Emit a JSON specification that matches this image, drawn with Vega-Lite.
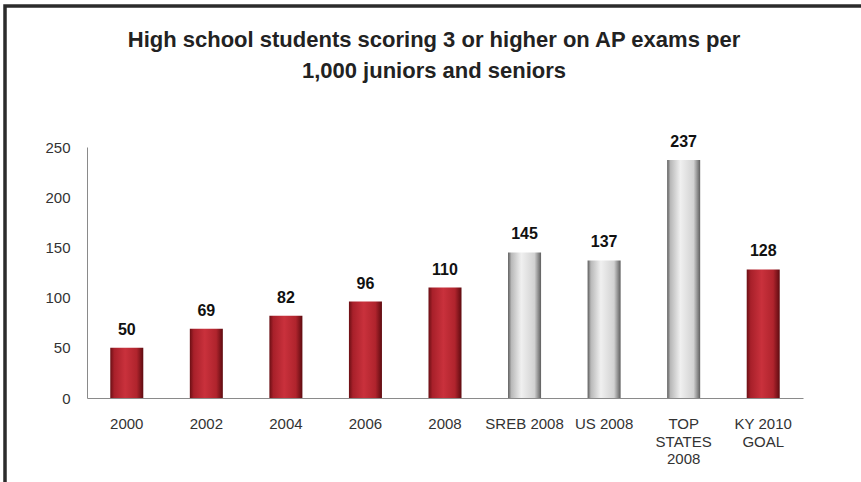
{
  "$schema": "https://vega.github.io/schema/vega-lite/v6.json",
  "autosize": "none",
  "width": 858,
  "height": 478,
  "padding": {"left": 5, "top": 6, "right": -2, "bottom": -2},
  "background": "white",
  "config": {
    "font": "Liberation Sans",
    "view": {"stroke": "#2b2b2b", "strokeWidth": 3.5}
  },
  "title": {
    "text": ["High school students scoring 3 or higher on AP exams per", "1,000 juniors and seniors"],
    "fontSize": 22,
    "fontWeight": "bold",
    "font": "Liberation Sans",
    "color": "#222222",
    "lineHeight": 31,
    "anchor": "middle",
    "offset": -77
  },
  "data": {
    "values": [
      {"category": "2000", "value": 50, "group": "Kentucky"},
      {"category": "2002", "value": 69, "group": "Kentucky"},
      {"category": "2004", "value": 82, "group": "Kentucky"},
      {"category": "2006", "value": 96, "group": "Kentucky"},
      {"category": "2008", "value": 110, "group": "Kentucky"},
      {"category": "SREB 2008", "value": 145, "group": "Comparison"},
      {"category": "US 2008", "value": 137, "group": "Comparison"},
      {"category": "TOP STATES 2008", "value": 237, "group": "Comparison"},
      {"category": "KY 2010 GOAL", "value": 128, "group": "Kentucky"}
    ]
  },
  "encoding": {
    "x": {
      "field": "category",
      "type": "nominal",
      "sort": ["2000", "2002", "2004", "2006", "2008", "SREB 2008", "US 2008", "TOP STATES 2008", "KY 2010 GOAL"],
      "scale": {"range": [82, 798], "paddingInner": 0.585, "paddingOuter": 0.2925},
      "axis": {
        "title": null,
        "labelAngle": 0,
        "labelFontSize": 15,
        "labelColor": "#333333",
        "labelFont": "Liberation Sans",
        "labelPadding": 18.5,
        "labelLineHeight": 17.5,
        "labelOverlap": false,
        "labelBaseline": "top",
        "ticks": false,
        "tickSize": 0,
        "domainColor": "#8a8a8a",
        "domainWidth": 1,
        "offset": -86,
        "labelExpr": "datum.value == 'TOP STATES 2008' ? ['TOP', 'STATES', '2008'] : datum.value == 'KY 2010 GOAL' ? ['KY 2010', 'GOAL'] : datum.value"
      }
    },
    "y": {
      "field": "value",
      "type": "quantitative",
      "scale": {"domain": [0, 250], "range": [392, 141], "nice": false},
      "axis": {
        "title": null,
        "values": [0, 50, 100, 150, 200, 250],
        "grid": false,
        "ticks": false,
        "tickSize": 0,
        "labelFontSize": 15,
        "labelColor": "#333333",
        "labelFont": "Liberation Sans",
        "labelPadding": 17,
        "domainColor": "#8a8a8a",
        "domainWidth": 1,
        "offset": -82
      }
    }
  },
  "layer": [
    {
      "transform": [{"filter": "datum.group == 'Kentucky'"}],
      "mark": {
        "type": "bar",
        "fill": {
          "gradient": "linear",
          "x1": 0, "y1": 0, "x2": 1, "y2": 0,
          "stops": [
            {"offset": 0, "color": "#6a0f14"},
            {"offset": 0.12, "color": "#a8202a"},
            {"offset": 0.45, "color": "#c9313c"},
            {"offset": 0.8, "color": "#b0242d"},
            {"offset": 1, "color": "#5e0b10"}
          ]
        }
      }
    },
    {
      "transform": [{"filter": "datum.group == 'Comparison'"}],
      "mark": {
        "type": "bar",
        "fill": {
          "gradient": "linear",
          "x1": 0, "y1": 0, "x2": 1, "y2": 0,
          "stops": [
            {"offset": 0, "color": "#5a5a5a"},
            {"offset": 0.1, "color": "#b8b8b8"},
            {"offset": 0.4, "color": "#f0f0f0"},
            {"offset": 0.8, "color": "#d2d2d2"},
            {"offset": 1, "color": "#5e5e5e"}
          ]
        }
      }
    },
    {
      "mark": {
        "type": "text",
        "font": "Liberation Sans",
        "fontSize": 16,
        "fontWeight": "bold",
        "color": "#111111",
        "baseline": "alphabetic",
        "dy": -13
      },
      "encoding": {"text": {"field": "value", "type": "quantitative"}}
    }
  ]
}
